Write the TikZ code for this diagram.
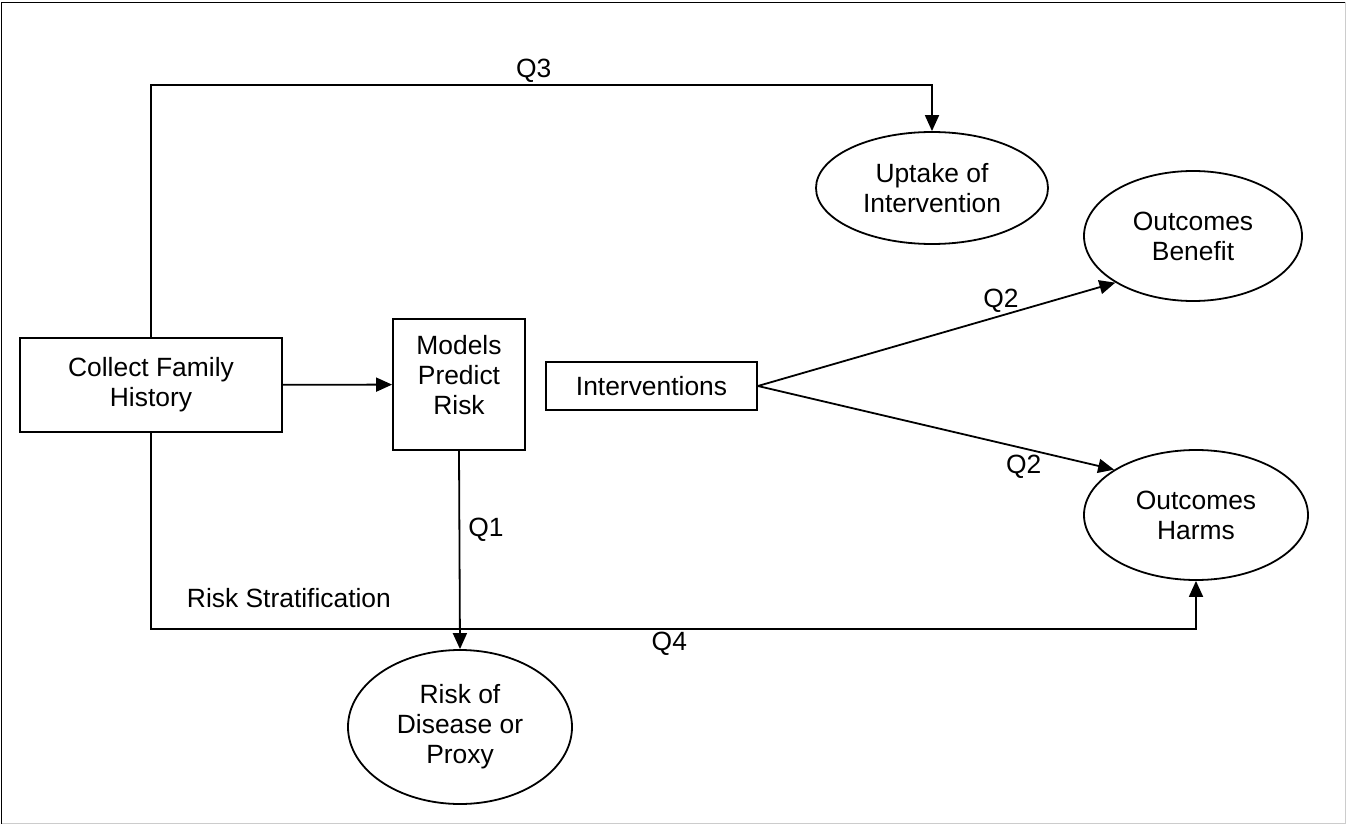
\documentclass[tikz,border=0pt]{standalone}
\usepackage{fontspec}
\setmainfont{Liberation Sans}
\usetikzlibrary{positioning,arrows.meta,shapes.geometric}

\begin{document}
\begin{tikzpicture}[x=0.5pt,y=-0.5pt,>={Triangle[length=8pt,width=7pt]},line width=0.9pt,
  every node/.style={font=\fontsize{13.2}{15}\selectfont},
  box/.style={draw,rectangle,align=center,inner sep=0pt},
  oval/.style={draw,ellipse,align=center,inner sep=0pt},
  lbl/.style={inner sep=1pt}]
  \useasboundingbox (0,0) rectangle (1346,824);
  % Frame
  \draw (1.5,824) -- (1.5,2.5) -- (1346,2.5);
  \draw[gray!40,line width=0.5pt] (1345,2.5) -- (1345,823) -- (1.5,823);
  % Boxes
  \node[box,minimum width=131pt,minimum height=47pt] (fh) at (151,385) {Collect Family\\History};
  \node[box,minimum width=66pt,minimum height=65.5pt,text depth=10pt] (mpr) at (459,384.5) {Models\\Predict\\Risk};
  \node[box,minimum width=105.5pt,minimum height=24pt] (iv) at (651.5,386) {Interventions};
  % Ellipses
  \node[oval,minimum width=116pt,minimum height=56pt] (up) at (932,188) {Uptake of\\Intervention};
  \node[oval,minimum width=109pt,minimum height=65pt] (ob) at (1193,236) {Outcomes\\Benefit};
  \node[oval,minimum width=112pt,minimum height=65pt] (oh) at (1196,515) {Outcomes\\Harms};
  \node[oval,minimum width=112pt,minimum height=77pt] (rd) at (460,727) {Risk of\\Disease or\\Proxy};
  % Arrows
  \coordinate (q3turn) at (151,85);
  \coordinate (q4turn) at (151,629);
  \draw[->] (fh) -- (mpr);
  \draw[->] (fh.north) -- (q3turn) -| node[lbl,pos=0.245,above]{Q3} (up.north);
  \draw[->] (fh.south) -- (q4turn) -| node[lbl,pos=0.066,above=9pt]{Risk Stratification} node[lbl,pos=0.248,below]{Q4} (oh.south);
  \draw[->] (mpr.south) -- node[lbl,pos=0.4,right=3pt]{Q1} (rd.north);
  \draw[->] (iv.east) -- node[lbl,pos=0.68,above]{Q2} (ob.211);
  \draw[->] (iv.east) -- node[lbl,pos=0.746,below=2pt]{Q2} (oh.151);
\end{tikzpicture}
\end{document}
